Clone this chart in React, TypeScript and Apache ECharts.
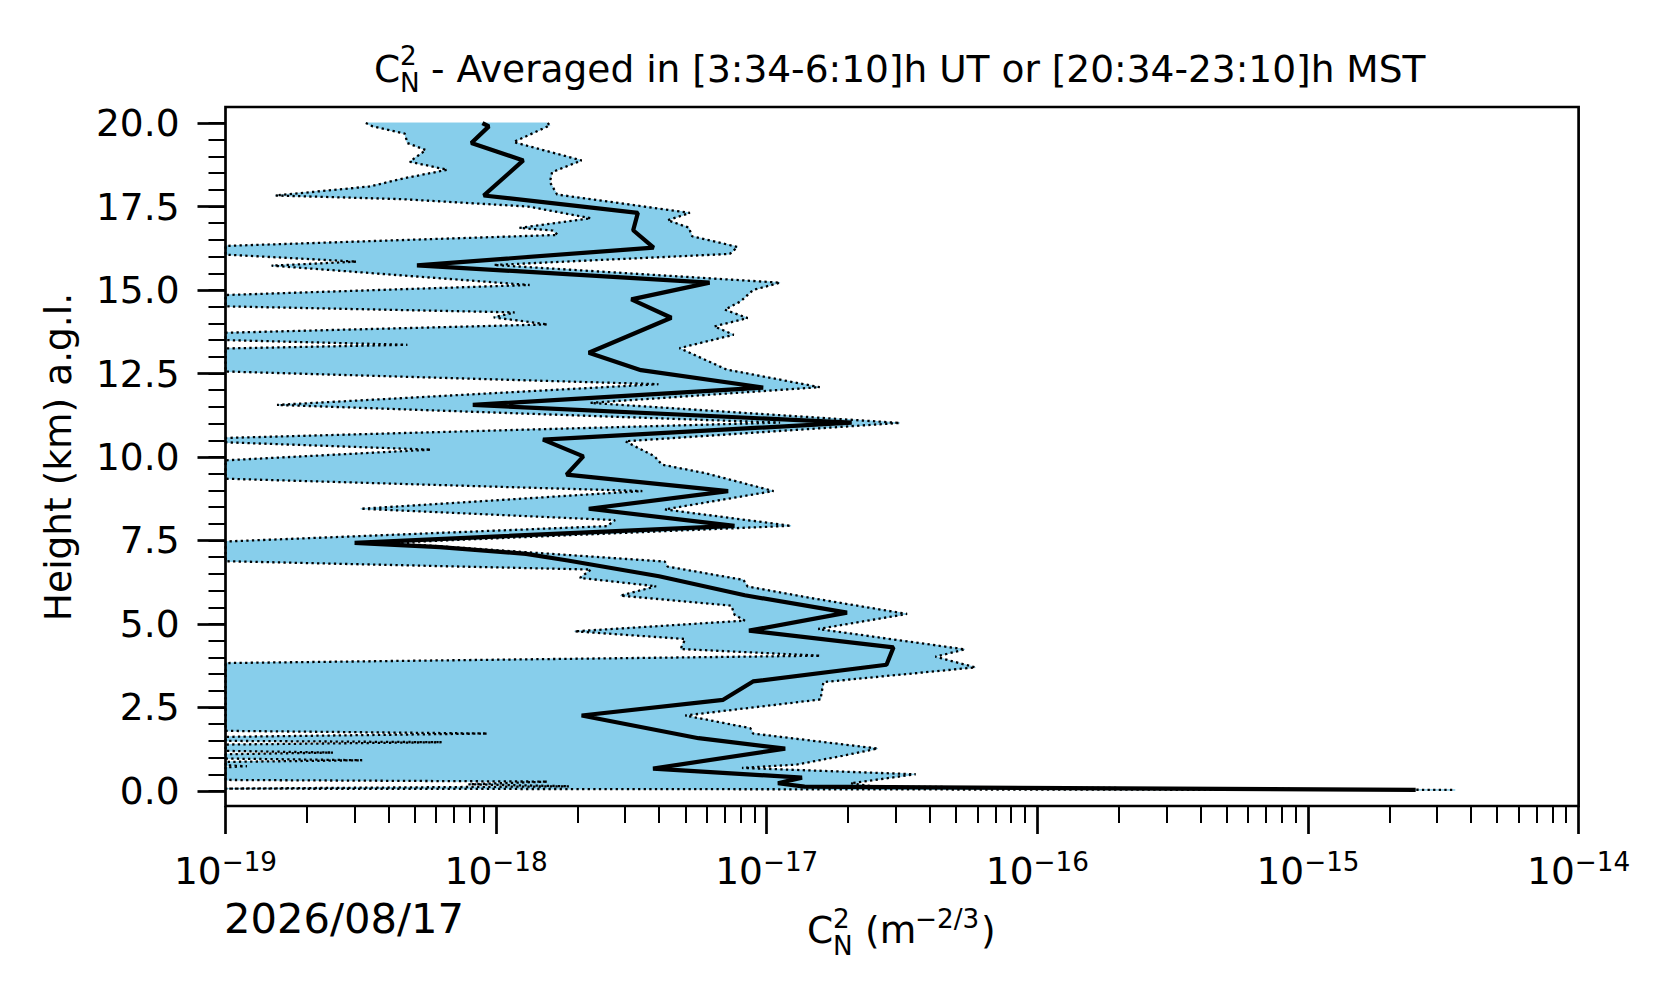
import React, { useEffect, useRef } from "react";
import * as echarts from "echarts";

// mean profile (height km, Cn2)
const meanHeight = [
  20.0, 19.9, 19.4, 18.88, 17.83, 17.31, 16.79, 16.27, 15.74, 15.22, 14.72, 14.17,
  13.12, 12.6, 12.08, 11.56, 11.03, 10.52, 10.02, 9.47, 8.98, 8.45, 7.94, 7.43,
  7.3, 7.1, 6.9, 6.43, 5.86, 5.34, 4.8, 4.3, 3.78, 3.28, 2.73, 2.26, 1.58, 1.27,
  0.67, 0.4, 0.23, 0.13, 0.03,
];
const meanValue = [
  8.9e-19, 9.4e-19, 8.1e-19, 1.26e-18, 9.0e-19, 3.34e-18, 3.21e-18, 3.82e-18, 5.1e-19,
  6.15e-18, 3.16e-18, 4.44e-18, 2.2e-18, 3.43e-18, 9.7e-18, 8.2e-19, 2.06e-17, 1.49e-18,
  2.1e-18, 1.82e-18, 7.2e-18, 2.2e-18, 7.6e-18, 3.0e-19, 6.2e-19, 1.29e-18, 1.84e-18,
  4.0e-18, 8.3e-18, 1.98e-17, 8.6e-18, 2.94e-17, 2.77e-17, 8.9e-18, 6.9e-18, 2.07e-18,
  5.6e-18, 1.17e-17, 3.8e-18, 1.35e-17, 1.1e-17, 1.38e-17, 2.5e-15,
];

// upper edge of the band
const upperHeight = [
  20.0, 19.93, 19.43, 18.88, 18.53, 18.23, 17.86, 17.31, 17.09, 16.87, 16.61, 16.29,
  16.08, 15.75, 15.22, 15.0, 14.66, 14.41, 14.16, 13.91, 13.66, 13.26, 12.62, 12.09,
  11.62, 11.02, 10.47, 10.02, 9.77, 9.52, 8.98, 8.43, 7.94, 7.43, 6.87, 6.72, 6.32,
  6.12, 5.77, 5.3, 4.85, 4.24, 4.02, 3.7, 3.26, 2.74, 2.26, 1.88, 1.72, 1.27, 1.05,
  0.79, 0.69, 0.5, 0.23, 0.13, 0.03,
];
const upperValue = [
  1.55e-18, 1.58e-18, 1.16e-18, 2.07e-18, 1.61e-18, 1.58e-18, 1.68e-18, 5.2e-18, 4.3e-18,
  5.15e-18, 5.3e-18, 7.8e-18, 7.3e-18, 9.8e-19, 1.12e-17, 8.9e-18, 8.0e-18, 7.0e-18,
  8.5e-18, 6.4e-18, 7.55e-18, 4.76e-18, 7.1e-18, 1.57e-17, 2.23e-18, 3.1e-17, 3.0e-18,
  3.85e-18, 4.1e-18, 5.9e-18, 1.06e-17, 4.2e-18, 1.23e-17, 4.0e-19, 4.2e-18, 4.3e-18,
  8.2e-18, 8.5e-18, 1.48e-17, 3.3e-17, 1.55e-17, 5.4e-17, 4.2e-17, 5.9e-17, 1.62e-17,
  1.58e-17, 5.0e-18, 8.7e-18, 8.9e-18, 2.57e-17, 1.9e-17, 1.29e-17, 8.1e-18, 3.55e-17,
  2.04e-17, 2.5e-17, 3.5e-15,
];

// lower edge of the band (1e-19 = off the left of the axis)
const lowerHeight = [
  20.0, 19.9, 19.68, 19.4, 19.19, 18.95, 18.84, 18.6, 18.35, 18.1, 17.83, 17.72, 17.5,
  17.15, 16.86, 16.78, 16.65, 16.32, 16.06, 15.85, 15.73, 15.15, 14.85, 14.51, 14.33,
  14.18, 13.97, 13.72, 13.5, 13.36, 13.25, 12.56, 12.18, 11.56, 11.03, 10.57, 10.44,
  10.22, 9.9, 9.35, 8.98, 8.45, 8.11, 7.93, 7.47, 6.88, 6.63, 6.38, 6.13, 5.85, 5.55,
  5.28, 5.1, 4.78, 4.55, 4.25, 4.05, 3.83, 1.8, 1.72, 1.62, 1.5, 1.46, 1.39, 1.2, 1.15,
  1.1, 0.97, 0.92, 0.87, 0.77, 0.74, 0.71, 0.33, 0.28, 0.2, 0.14, 0.07, 0.03,
];
const lowerValue = [
  3.3e-19, 3.5e-19, 4.6e-19, 4.7e-19, 5.5e-19, 5.0e-19, 4.8e-19, 6.6e-19, 4.6e-19, 3.4e-19,
  1.53e-19, 4.5e-19, 1.31e-18, 2.24e-18, 1.22e-18, 1.62e-18, 1.69e-18, 1e-19, 1e-19,
  3.05e-19, 1.48e-19, 1.33e-18, 1e-19, 1e-19, 1.17e-18, 9.8e-19, 1.55e-18, 1e-19, 1e-19,
  4.7e-19, 1e-19, 1e-19, 3.98e-18, 1.55e-19, 1.12e-17, 1e-19, 1e-19, 5.75e-19, 1e-19,
  1e-19, 3.47e-18, 3.16e-19, 2.75e-18, 2.57e-18, 1e-19, 1e-19, 2.24e-18, 2.04e-18,
  3.9e-18, 2.88e-18, 7.4e-18, 7.6e-18, 8.3e-18, 1.95e-18, 5.0e-18, 4.8e-18, 1.58e-17,
  1e-19, 1e-19, 9.3e-19, 1e-19, 1e-19, 6.3e-19, 1e-19, 1e-19, 2.5e-19, 1e-19, 1e-19,
  3.2e-19, 1e-19, 1e-19, 1.2e-19, 1e-19, 1e-19, 1.55e-18, 7.9e-19, 1.86e-18, 1e-19,
  1.78e-15,
];

const yTicks = [0, 2.5, 5, 7.5, 10, 12.5, 15, 17.5, 20];
const yMinorTicks = Array.from({ length: 41 }, (_, i) => i * 0.5);
const xDecades = [-19, -18, -17, -16, -15, -14];
const xMinorTicks = xDecades
  .slice(0, -1)
  .flatMap((d) => [2, 3, 4, 5, 6, 7, 8, 9].map((m) => m * Math.pow(10, d)));

const FONT = '"DejaVu Sans", sans-serif';
const BIG = 37.5;
const SMALL = 26.25;

const txt = (text: string, x: number, y: number, size: number, extra: any = {}) => ({
  type: "text",
  x,
  y,
  silent: true,
  ...extra,
  style: {
    text,
    fontSize: size,
    fontFamily: FONT,
    fill: "#000",
    align: extra.align || "left",
    verticalAlign: "middle",
    textAlign: extra.align || "left",
    textVerticalAlign: "middle",
  },
});

const App: React.FC = () => {
  const chartRef = useRef<HTMLDivElement>(null);

  useEffect(() => {
    const dom = chartRef.current;
    if (!dom) return;
    document.body.style.margin = "0";
    const chart = echarts.init(dom, null, { renderer: "svg" });

    const yBase = { type: "value", min: -0.45, max: 20.48, position: "left", splitLine: { show: false } };
    const xBase = { type: "log", logBase: 10, min: 1e-19, max: 1e-14, position: "bottom", splitLine: { show: false } };
    const noLine = { show: false, onZero: false };

    const option: any = {
      animation: false,
      backgroundColor: "#fff",
      grid: {
        left: 225.5,
        top: 107,
        right: 97.4,
        bottom: 197,
        show: true,
        borderColor: "#000",
        borderWidth: 2.7,
        z: 10,
      },
      xAxis: [
        {
          ...xBase,
          axisLine: noLine,
          axisTick: { show: true, length: 28, lineStyle: { color: "#000", width: 2.7 } },
          minorTick: { show: false },
          axisLabel: {
            margin: 43,
            formatter: (v: number) => {
              const e = Math.round(Math.log10(v));
              return `{b|10}{s|\u2212${-e}}`;
            },
            rich: {
              b: { fontSize: BIG, fontFamily: FONT, color: "#000", lineHeight: 44 },
              s: { fontSize: SMALL, fontFamily: FONT, color: "#000", lineHeight: 23, verticalAlign: "top" },
            },
          },
        },
        {
          ...xBase,
          axisLine: noLine,
          axisTick: { show: true, customValues: xMinorTicks, length: 17, lineStyle: { color: "#000", width: 2 } },
          axisLabel: { show: false },
        },
      ],
      yAxis: [
        {
          ...yBase,
          axisLine: noLine,
          axisTick: { show: true, customValues: yTicks, length: 28, lineStyle: { color: "#000", width: 2.7 } },
          axisLabel: {
            customValues: yTicks,
            formatter: (v: number) => v.toFixed(1),
            fontSize: BIG,
            fontFamily: FONT,
            color: "#000",
            margin: 46,
          },
        },
        {
          ...yBase,
          axisLine: noLine,
          axisTick: { show: true, customValues: yMinorTicks, length: 17, lineStyle: { color: "#000", width: 2 } },
          axisLabel: { show: false },
        },
      ],
      series: [
        {
          type: "custom",
          silent: true,
          z: 1,
          data: [[1e-18, 10]],
          renderItem: (_params: any, api: any) => {
            const pts: number[][] = [];
            for (let i = 0; i < upperHeight.length; i++) pts.push(api.coord([upperValue[i], upperHeight[i]]));
            for (let i = lowerHeight.length - 1; i >= 0; i--) pts.push(api.coord([lowerValue[i], lowerHeight[i]]));
            return { type: "polygon", shape: { points: pts }, style: { fill: "#87ceeb", stroke: "#87ceeb", lineWidth: 1 } };
          },
        },
        {
          type: "line",
          symbol: "none",
          silent: true,
          z: 3,
          data: lowerHeight.map((h, i) => [lowerValue[i], h]),
          lineStyle: { color: "#000", width: 2.3, type: [2.3, 3.3], cap: "butt" },
        },
        {
          type: "line",
          symbol: "none",
          silent: true,
          z: 3,
          data: upperHeight.map((h, i) => [upperValue[i], h]),
          lineStyle: { color: "#000", width: 2.3, type: [2.3, 3.3], cap: "butt" },
        },
        {
          type: "line",
          symbol: "none",
          silent: true,
          z: 4,
          data: meanHeight.map((h, i) => [meanValue[i], h]),
          lineStyle: { color: "#000", width: 4.2 },
        },
      ],
      graphic: {
        elements: [
          // title
          txt("C", 374, 68.7, BIG),
          txt("2", 400, 55.9, SMALL),
          txt("N", 400, 82.6, SMALL),
          txt("- Averaged in [3:34-6:10]h UT or [20:34-23:10]h MST", 431, 68.7, BIG),
          // x axis name
          txt("C", 807, 930, BIG),
          txt("2", 833, 918.9, SMALL),
          txt("N", 833, 945.9, SMALL),
          txt("(m", 865, 930, BIG),
          txt("\u22122/3", 915, 918.9, SMALL),
          txt(")", 981, 930, BIG),
          // date
          txt("2026/08/17", 224, 918.9, 41.67),
          // y axis name
          txt("Height (km) a.g.l.", 58, 457, BIG, { rotation: Math.PI / 2, align: "center" }),
        ],
      },
    };

    chart.setOption(option);
    return () => {
      chart.dispose();
    };
  }, []);

  return (
    <div
      ref={chartRef}
      style={{ position: "fixed", left: 0, top: 0, width: "1676px", height: "1003px", background: "#fff" }}
    />
  );
};

export default App;
